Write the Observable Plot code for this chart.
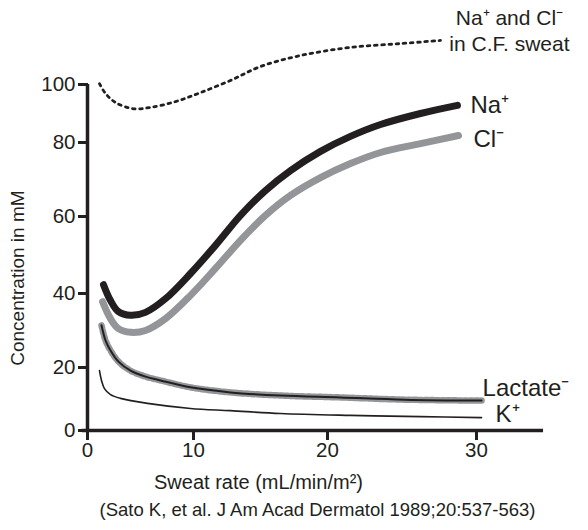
<!DOCTYPE html>
<html>
<head>
<meta charset="utf-8">
<script src="https://cdn.jsdelivr.net/npm/d3@7"></script>
<script src="https://cdn.jsdelivr.net/npm/@observablehq/plot@0.6"></script>
<style>
  body { margin: 0; background: #fff; }
  #chart svg { display: block; }
</style>
</head>
<body>
<div id="chart"></div>
<script>
// Sweat rate (mL/min/m²) vs concentration (mM)
const naX = [1.51, 2.17, 2.92, 4.06, 5.47, 7.36, 9.72, 11.64, 13.51, 15.37, 17.24, 19.48, 21.54, 23.56, 26.24, 28.72];
const naY = [42.3, 38.1, 35.1, 34.1, 34.9, 38.6, 45.2, 52.5, 60.3, 67.0, 72.4, 77.6, 82.1, 86.2, 90.0, 92.8];

const clX = [1.42, 2.17, 2.92, 4.06, 5.47, 7.36, 9.72, 11.64, 13.51, 15.37, 17.24, 19.48, 21.54, 23.56, 26.24, 28.79];
const clY = [37.8, 33.2, 30.5, 29.5, 30.0, 33.2, 39.5, 46.5, 53.8, 60.3, 65.7, 70.5, 74.3, 77.3, 79.7, 82.4];

const cfX = [1.13, 1.70, 2.64, 4.25, 5.94, 8.30, 10.52, 12.76, 15.0, 18.0, 21.54, 24.9, 27.58];
const cfY = [100.3, 96.9, 93.8, 91.7, 92.1, 94.1, 97.2, 101.4, 106.2, 110.0, 112.8, 114.1, 115.2];

const lacX = [1.32, 1.70, 2.17, 2.92, 4.06, 5.47, 6.89, 9.72, 12.76, 16.49, 20.87, 25.17, 30.34];
const lacY = [31.4, 27.3, 24.6, 21.6, 19.0, 17.1, 15.9, 13.7, 12.1, 11.1, 10.5, 9.8, 9.5];

const kX = [1.13, 1.32, 1.60, 2.17, 3.11, 5.66, 9.72, 12.76, 16.49, 21.54, 26.24, 30.34];
const kY = [19.0, 15.9, 13.3, 11.4, 10.2, 8.6, 7.0, 6.3, 5.4, 4.8, 4.4, 4.1];

const xTicks = [0, 10, 20, 30];
const yTicks = [0, 20, 40, 60, 80, 100];

const labels = {
  na: "Na\u207A",
  cl: "Cl\u207B",
  cf: "Na\u207A and Cl\u207B\nin C.F. sweat",
  lac: "Lactate\u207B",
  k: "K\u207A"
};
const xLabel = "Sweat rate (mL/min/m\u00B2)";
const yLabel = "Concentration in mM";
const caption = "(Sato K, et al. J Am Acad Dermatol 1989;20:537-563)";

const zipXY = (xs, ys) => xs.map((x, i) => ({x, y: ys[i]}));
const na = zipXY(naX, naY), cl = zipXY(clX, clY), cf = zipXY(cfX, cfY),
      lac = zipXY(lacX, lacY), k = zipXY(kX, kY);

const BLACK = "#231f20", GRAY = "#939598";
const FONT = "Liberation Sans, Arial, Helvetica, sans-serif";
const curve = "catmull-rom";

const chart = Plot.plot({
  width: 588,
  height: 530,
  marginLeft: 88,
  marginRight: 0,
  marginTop: 0,
  marginBottom: 100,
  style: {fontFamily: FONT, fontSize: "20px", color: BLACK, background: "#fff"},
  x: {type: "linear", domain: xTicks, range: [87, 193, 327, 476]},
  y: {type: "linear", domain: yTicks, range: [430, 367, 293, 216, 142, 84]},
  marks: [
    Plot.axisY({ticks: yTicks, tickSize: 10, tickPadding: 3, strokeWidth: 3, fontSize: 20.5, label: null, stroke: BLACK}),
    Plot.axisX({ticks: xTicks, tickSize: 10, tickPadding: 2, strokeWidth: 3, fontSize: 20.5, label: null, stroke: BLACK}),
    Plot.ruleX([0], {y1: 0, y2: 100, stroke: BLACK, strokeWidth: 3.5}),
    Plot.ruleY([0], {x1: -0.5, x2: 34.5, stroke: BLACK, strokeWidth: 3.5}),
    // K+
    Plot.line(k, {x: "x", y: "y", stroke: BLACK, strokeWidth: 1.6, curve}),
    // Lactate-
    Plot.line(lac, {x: "x", y: "y", stroke: GRAY, strokeWidth: 6.5, strokeDasharray: "3,2.6", curve}),
    Plot.line(lac, {x: "x", y: "y", stroke: BLACK, strokeWidth: 2, curve}),
    // Cl-
    Plot.line(cl, {x: "x", y: "y", stroke: GRAY, strokeWidth: 7, curve}),
    // Na+
    Plot.line(na, {x: "x", y: "y", stroke: BLACK, strokeWidth: 7, curve}),
    // CF sweat
    Plot.line(cf, {x: "x", y: "y", stroke: BLACK, strokeWidth: 2.8, strokeDasharray: "2.6,4.6", curve}),
    // series labels
    Plot.text([na.at(-1)], {x: "x", y: "y", text: [labels.na], dx: 13, dy: 0, textAnchor: "start", fontSize: 24}),
    Plot.text([cl.at(-1)], {x: "x", y: "y", text: [labels.cl], dx: 15, dy: 4, textAnchor: "start", fontSize: 24}),
    Plot.text([lac.at(-1)], {x: "x", y: "y", text: [labels.lac], dx: 1, dy: -12, textAnchor: "start", fontSize: 24}),
    Plot.text([k.at(-1)], {x: "x", y: "y", text: [labels.k], dx: 14, dy: -3, textAnchor: "start", fontSize: 24}),
    Plot.text([cf.at(-1)], {x: "x", y: "y", text: [labels.cf], dx: 69, dy: -11, textAnchor: "middle", fontSize: 21, lineHeight: 1.25}),
    // axis titles and caption
    Plot.text([yLabel], {x: [0], y: [44], dx: -70, rotate: -90, fontSize: 19}),
    Plot.text([xLabel], {frameAnchor: "bottom", dx: -80, dy: 58, fontSize: 20}),
    Plot.text([caption], {frameAnchor: "bottom", dx: -21, dy: 85, fontSize: 18.5})
  ]
});
document.getElementById("chart").appendChild(chart);
</script>
</body>
</html>
